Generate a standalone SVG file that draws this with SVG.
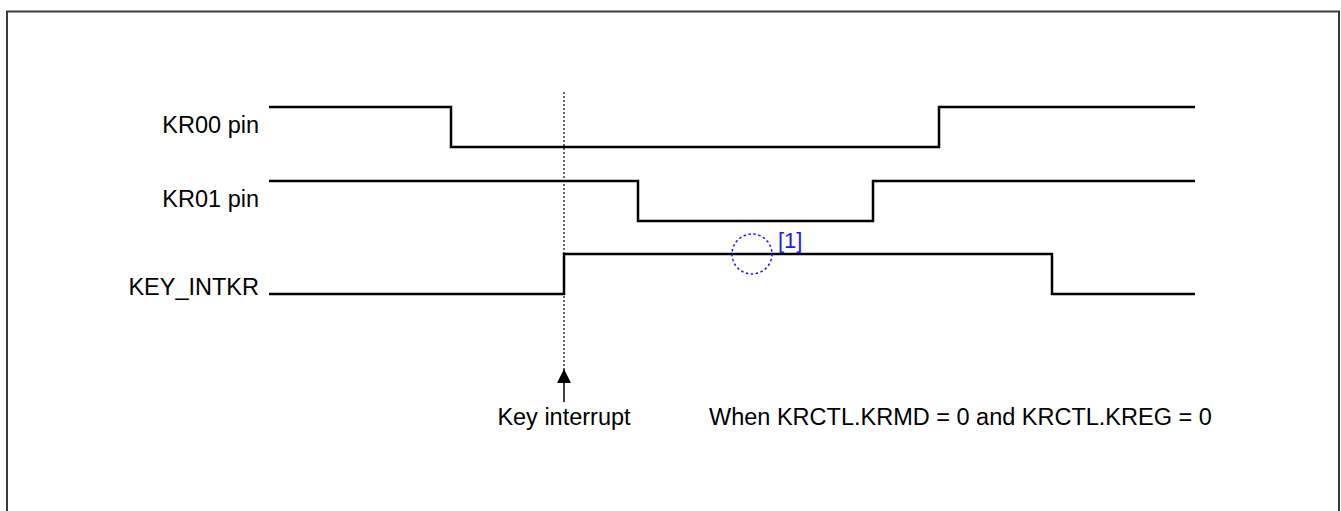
<svg xmlns="http://www.w3.org/2000/svg" width="1341" height="511" viewBox="0 0 1341 511">
<defs>
<style>
.lbl{font-family:"Liberation Sans",Arial,sans-serif;font-size:23.5px;fill:#000}
.wave{fill:none;stroke:#000;stroke-width:2.5}
</style>
<marker id="ah" viewBox="0 0 14 14" refX="14" refY="7" markerWidth="14" markerHeight="14" markerUnits="userSpaceOnUse" orient="auto">
<path d="M0,0 L14,7 L0,14 Z" fill="#000"/>
</marker>
</defs>
<rect x="0" y="0" width="1341" height="511" fill="#fff"/>
<rect x="7" y="11.5" width="1332" height="520" fill="none" stroke="#3a3a3a" stroke-width="2"/>
<g id="kr00">
<text class="lbl" x="259" y="133" text-anchor="end">KR00 pin</text>
<polyline class="wave" points="269,107 451,107 451,147 939,147 939,107 1195,107"/>
</g>
<g id="kr01">
<text class="lbl" x="259" y="207" text-anchor="end">KR01 pin</text>
<polyline class="wave" points="269,181 638,181 638,221 873,221 873,181 1195,181"/>
</g>
<g id="keyintkr">
<text class="lbl" x="259" y="295" text-anchor="end">KEY_INTKR</text>
<polyline class="wave" points="269,294 564,294 564,254 1052,254 1052,294 1195,294"/>
</g>
<g id="connectors">
<line x1="564" y1="92" x2="564" y2="369" stroke="#000" stroke-width="1.2" stroke-dasharray="2,2"/>
<line x1="564" y1="402" x2="564" y2="369" stroke="#000" stroke-width="1.5" marker-end="url(#ah)"/>
</g>
<g id="note1">
<circle cx="752" cy="254" r="20" fill="none" stroke="#1a1aff" stroke-width="1.5" stroke-dasharray="2.5,2.5"/>
<text x="778" y="248" font-family="Liberation Sans,Arial,sans-serif" font-size="22" fill="#1a1aff">[1]</text>
</g>
<g id="labels">
<text class="lbl" x="564" y="425" text-anchor="middle">Key interrupt</text>
<text class="lbl" x="709" y="425">When KRCTL.KRMD = 0 and KRCTL.KREG = 0</text>
</g>
</svg>
